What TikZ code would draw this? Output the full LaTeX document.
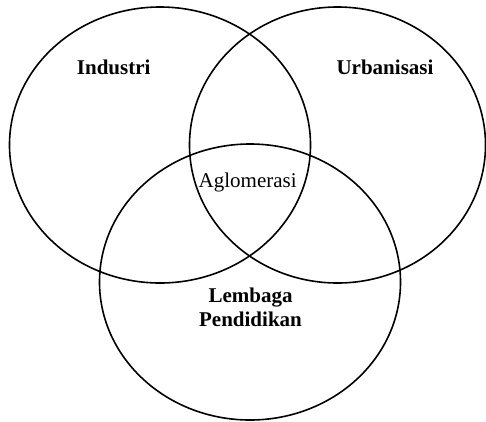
\documentclass[tikz,border=0pt]{standalone}
\usepackage{fontspec}
\setmainfont{Liberation Serif}
\begin{document}
\begin{tikzpicture}[x=1pt,y=-1pt,
  setring/.style={draw=black,line width=1.6pt},
  setlabel/.style={inner sep=0pt,anchor=base,align=center,
    font=\fontsize{21}{24}\selectfont\bfseries},
  corelabel/.style={inner sep=0pt,anchor=base,
    font=\fontsize{21}{24}\selectfont}]
  \useasboundingbox (0,0) rectangle (486,421);
  % the three overlapping sets
  \draw[setring] (160,145) ellipse [x radius=150.5, y radius=138];
  \draw[setring] (337.5,145) ellipse [x radius=148, y radius=138];
  \draw[setring] (250,282) ellipse [x radius=150.5, y radius=138];
  % set names
  \node[setlabel] (industri) at (113.7,74) {Industri};
  \node[setlabel] (urban) at (385,74) {Urbanisasi};
  \node[setlabel] (lembaga) at (250.5,326.7) {Lembaga\\Pendidikan};
  % shared region
  \node[corelabel] (aglo) at (247.7,187) {Aglomerasi};
\end{tikzpicture}
\end{document}
